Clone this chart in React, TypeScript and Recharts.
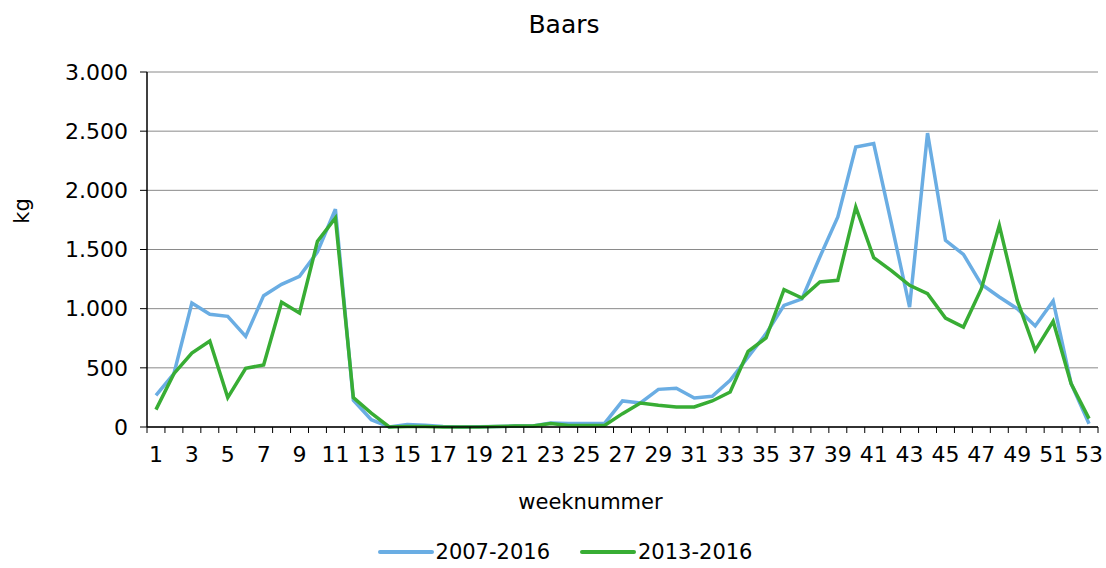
import { LineChart, Line, XAxis, YAxis, CartesianGrid, Legend } from 'recharts';

const weeks = Array.from({ length: 53 }, (_, i) => i + 1);

const series2007 = [
  268, 451, 1048, 952, 935, 766, 1110, 1206, 1273, 1479, 1840, 226, 62, 0, 22, 14, 5, 0, 3, 5, 8, 8, 34, 30, 30, 30,
  220, 203, 318, 327, 245, 259, 395, 592, 789, 1028, 1082, 1437, 1775, 2366, 2395, 1710, 1014, 2484, 1578, 1459,
  1206, 1099, 1000, 854, 1065, 367, 28,
];

const series2013 = [
  147, 451, 625, 727, 248, 496, 524, 1054, 963, 1569, 1766, 248, 118, 0, 5, 5, 0, 0, 0, 5, 8, 8, 30, 12, 12, 12,
  113, 203, 183, 169, 169, 220, 296, 640, 752, 1161, 1090, 1225, 1240, 1859, 1431, 1320, 1197, 1127, 921, 845,
  1169, 1704, 1070, 648, 893, 367, 71,
];

const yTicks = [0, 500, 1000, 1500, 2000, 2500, 3000];

const data = weeks.map((w, i) => ({
  week: w,
  a: series2007[i],
  b: series2013[i],
}));

const FONT = "'DejaVu Sans', Verdana, sans-serif";
const BLUE = '#6aade3';
const GREEN = '#38ad34';

const fmt = (v: number) => String(v).replace(/\B(?=(\d{3})+(?!\d))/g, '.');

function WeekTick(props: any) {
  const { x, y, payload, index } = props;
  const half = payload?.offset ?? 9;
  const last = index === weeks.length - 1;
  return (
    <g>
      <line x1={x - half} y1={y} x2={x - half} y2={y + 6} stroke="#000" strokeWidth={1} />
      {last && <line x1={x + half} y1={y} x2={x + half} y2={y + 6} stroke="#000" strokeWidth={1} />}
      {payload.value % 2 === 1 && (
        <text x={x} y={y + 27} textAnchor="middle" dominantBaseline="central" fontSize={22} fill="#000" fontFamily={FONT}>
          {payload.value}
        </text>
      )}
    </g>
  );
}

function LegendContent(props: any) {
  const { payload } = props;
  return (
    <div
      style={{
        height: 44,
        display: 'flex',
        justifyContent: 'center',
        alignItems: 'flex-end',
        paddingLeft: 32,
        boxSizing: 'border-box',
        paddingBottom: 4,
        fontFamily: FONT,
        fontSize: 21,
        color: '#000',
      }}
    >
      {payload.map((p: any, i: number) => (
        <div key={i} style={{ display: 'flex', alignItems: 'center', marginRight: i === 0 ? 30 : 0 }}>
          <svg width={56} height={20}>
            <line x1={2} y1={10} x2={54} y2={10} stroke={p.color} strokeWidth={4} strokeLinecap="round" />
          </svg>
          <span style={{ marginLeft: 2 }}>{p.value}</span>
        </div>
      ))}
    </div>
  );
}

export default function App() {
  return (
    <div style={{ position: 'absolute', left: 0, top: 0, width: 1106, height: 568, background: '#fff' }}>
      <div
        style={{
          position: 'absolute',
          top: 10,
          left: 0,
          width: 1128,
          textAlign: 'center',
          fontFamily: FONT,
          fontSize: 25,
          color: '#000',
        }}
      >
        Baars
      </div>
      <LineChart width={1106} height={568} data={data} margin={{ top: 72, right: 8, left: 0, bottom: 0 }}>
        <CartesianGrid vertical={false} stroke="#8a8a8a" />
        <XAxis
          dataKey="week"
          scale="band"
          interval={0}
          height={97}
          tickLine={false}
          tickSize={0}
          tickMargin={0}
          axisLine={{ stroke: '#000', strokeWidth: 1.5 }}
          tick={<WeekTick />}
          label={{
            content: (p: any) => (
              <text
                x={p.viewBox.x + p.viewBox.width / 2 - 32}
                y={p.viewBox.y + 75}
                textAnchor="middle"
                dominantBaseline="central"
                fontSize={21}
                fontFamily={FONT}
                fill="#000"
              >
                weeknummer
              </text>
            ),
          }}
        />
        <XAxis xAxisId="top" dataKey="week" orientation="top" height={0} tick={false} tickLine={false} axisLine={{ stroke: '#000', strokeWidth: 1.5 }} />
        <YAxis
          width={147}
          domain={[0, 3000]}
          ticks={yTicks}
          tickFormatter={fmt}
          tickSize={7}
          tickMargin={12}
          tickLine={{ stroke: '#000' }}
          axisLine={{ stroke: '#000', strokeWidth: 1.5 }}
          tick={{ fontSize: 22, fill: '#000', fontFamily: FONT }}
          label={{
            content: (p: any) => (
              <text
                x={p.viewBox.x + 22}
                y={p.viewBox.y + 139}
                transform={`rotate(-90, ${p.viewBox.x + 22}, ${p.viewBox.y + 139})`}
                textAnchor="middle"
                dominantBaseline="central"
                fontSize={21}
                fontFamily={FONT}
                fill="#000"
              >
                kg
              </text>
            ),
          }}
        />
        <YAxis yAxisId="right" orientation="right" width={0} domain={[0, 3000]} tick={false} tickLine={false} axisLine={{ stroke: '#000', strokeWidth: 1.5 }} />
        <Legend verticalAlign="bottom" content={<LegendContent />} />
        <Line dataKey="a" name="2007-2016" stroke={BLUE} strokeWidth={3.5} dot={false} isAnimationActive={false} />
        <Line dataKey="b" name="2013-2016" stroke={GREEN} strokeWidth={3.5} dot={false} isAnimationActive={false} />
      </LineChart>
    </div>
  );
}
